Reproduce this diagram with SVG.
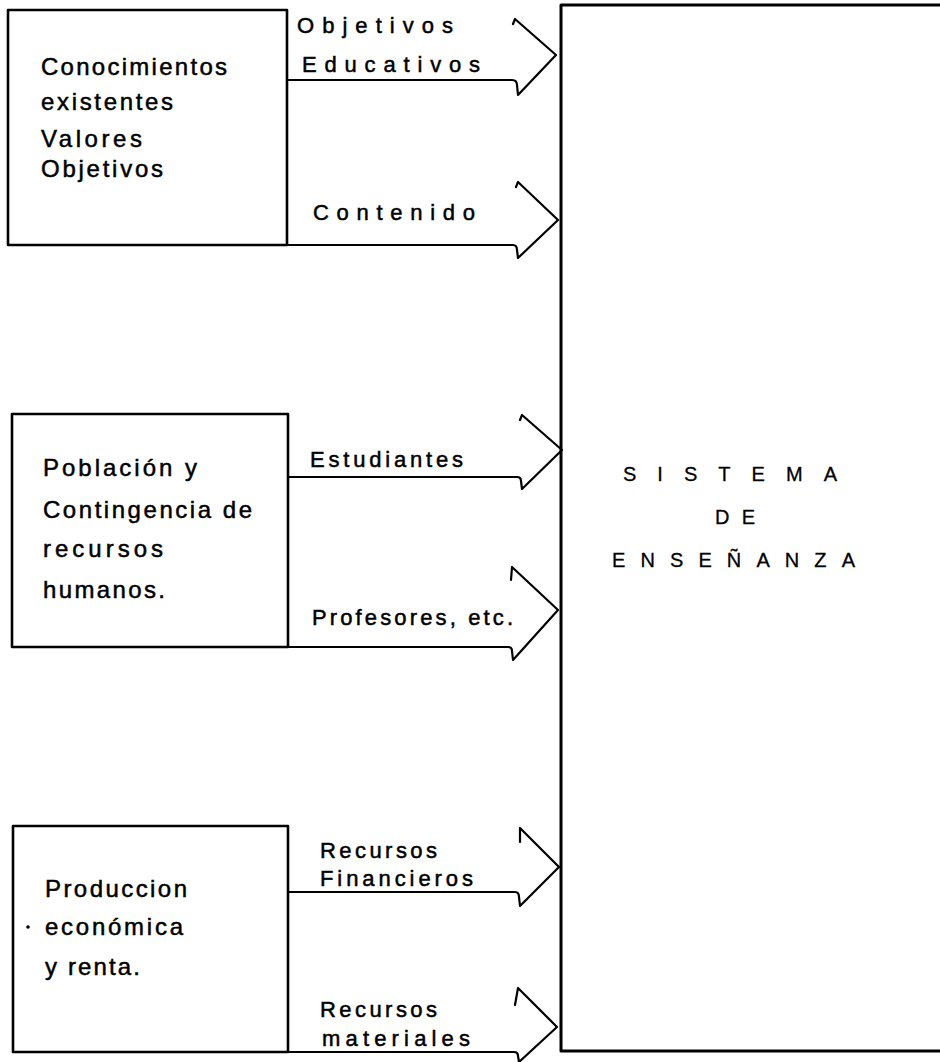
<svg xmlns="http://www.w3.org/2000/svg" width="940" height="1062" viewBox="0 0 940 1062">
<style>
.box{fill:none;stroke:#000;stroke-width:2.6;stroke-linejoin:round}
.big{fill:none;stroke:#000;stroke-width:3;stroke-linejoin:round}
.arr{fill:none;stroke:#000;stroke-width:2.2;stroke-linejoin:round;stroke-linecap:round}
.t{font-family:"Liberation Sans","Arial",sans-serif;font-size:24px;fill:#000;stroke:#000;stroke-width:0.5}
.l{font-family:"Liberation Sans","Arial",sans-serif;font-size:22px;fill:#000;stroke:#000;stroke-width:0.5}
.c{font-family:"Liberation Sans","Arial",sans-serif;font-size:20px;fill:#000;stroke:#000;stroke-width:0.3}
</style>
<rect width="940" height="1062" fill="#fff"/>
<g id="node-conocimientos">
<rect class="box" x="8" y="10" width="279" height="235"/>
<text class="t" x="41" y="75" textLength="186" lengthAdjust="spacing">Conocimientos</text>
<text class="t" x="41" y="110" textLength="132" lengthAdjust="spacing">existentes</text>
<text class="t" x="41" y="147" textLength="101" lengthAdjust="spacing">Valores</text>
<text class="t" x="41" y="177" textLength="122" lengthAdjust="spacing">Objetivos</text>
</g>
<g id="node-poblacion">
<rect class="box" x="12" y="414" width="276" height="233"/>
<text class="t" x="43" y="476" textLength="154" lengthAdjust="spacing">Población y</text>
<text class="t" x="43" y="518" textLength="209" lengthAdjust="spacing">Contingencia de</text>
<text class="t" x="43" y="557" textLength="120" lengthAdjust="spacing">recursos</text>
<text class="t" x="43" y="598" textLength="122" lengthAdjust="spacing">humanos.</text>
</g>
<g id="node-produccion">
<rect class="box" x="13" y="826" width="275" height="226"/>
<text class="t" x="45" y="897" textLength="142" lengthAdjust="spacing">Produccion</text>
<circle cx="28" cy="927" r="1.8" fill="#000"/>
<text class="t" x="45" y="935" textLength="138" lengthAdjust="spacing">económica</text>
<text class="t" x="45" y="975" textLength="95" lengthAdjust="spacing">y renta.</text>
</g>
<g id="node-sistema">
<path class="big" d="M945 5 L561 5 L561 1051 L945 1051"/>
<text class="c" x="623" y="481" textLength="214" lengthAdjust="spacing">SISTEMA</text>
<text class="c" x="715" y="524" textLength="40" lengthAdjust="spacing">DE</text>
<text class="c" x="612" y="567" textLength="243" lengthAdjust="spacing">ENSEÑANZA</text>
</g>
<g id="connectors">
<path class="arr" d="M288 80 L512 80 Q517 80 517 85 L518 95 L556 55 L515 19 L513 24"/>
<path class="arr" d="M288 245 L513 245 Q517 245 517 250 L518 258 L558 220 L518 182 L516 187"/>
<path class="arr" d="M288 477 L517 477 Q521 477 521 481 L522 489 L562 450 L522 415 L520 420"/>
<path class="arr" d="M288 647 L508 647 Q512 647 512 651 L513 660 L558 610 L512 567 L511 580"/>
<path class="arr" d="M288 892 L515 892 Q519 892 519 897 L520 906 L559 867 L520 828 L520 842"/>
<path class="arr" d="M288 1052 L514 1052 Q518 1052 518 1056 L519 1062 L557 1027 L518 988 L515 1005"/>
<text class="l" x="297" y="33" textLength="156" lengthAdjust="spacing">Objetivos</text>
<text class="l" x="302" y="72" textLength="178" lengthAdjust="spacing">Educativos</text>
<text class="l" x="313" y="220" textLength="162" lengthAdjust="spacing">Contenido</text>
<text class="l" x="310" y="467" textLength="153" lengthAdjust="spacing">Estudiantes</text>
<text class="l" x="312" y="625" textLength="201" lengthAdjust="spacing">Profesores, etc.</text>
<text class="l" x="320" y="858" textLength="117" lengthAdjust="spacing">Recursos</text>
<text class="l" x="320" y="886" textLength="153" lengthAdjust="spacing">Financieros</text>
<text class="l" x="320" y="1017" textLength="117" lengthAdjust="spacing">Recursos</text>
<text class="l" x="322" y="1046" textLength="148" lengthAdjust="spacing">materiales</text>
</g>
</svg>
